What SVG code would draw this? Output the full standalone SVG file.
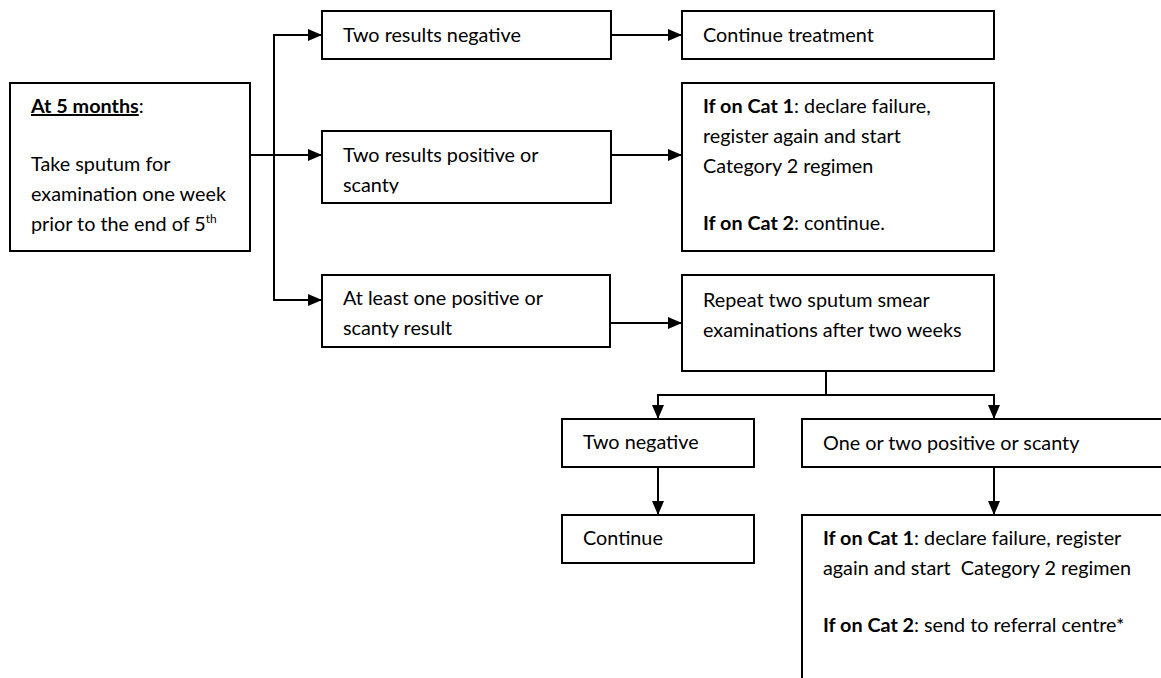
<svg xmlns="http://www.w3.org/2000/svg" width="1161" height="678" viewBox="0 0 1161 678">
<defs>
<style>
.box{fill:#fff;stroke:#000;stroke-width:2}
.t{font-family:Lato,"Liberation Sans",sans-serif;font-size:19.8px;fill:#000}
.b{font-weight:bold}
.c{fill:none;stroke:#000;stroke-width:2}
</style>
<marker id="ah" viewBox="0 0 14 12" refX="14" refY="6" markerWidth="14" markerHeight="12" markerUnits="userSpaceOnUse" orient="auto">
<path d="M0,0 L14,6 L0,12 Z" fill="#000"/>
</marker>
<clipPath id="clip1"><rect x="322" y="131" width="289" height="62.5"/></clipPath>
<clipPath id="clip2"><rect x="322" y="275" width="289" height="62.5"/></clipPath>
</defs>
<rect width="1161" height="678" fill="#fff"/>
<g id="connectors">
<path class="c" d="M250,155 H322" marker-end="url(#ah)"/>
<path class="c" d="M274,155 V35 H322" marker-end="url(#ah)"/>
<path class="c" d="M274,155 V300 H322" marker-end="url(#ah)"/>
<path class="c" d="M611,35 H682" marker-end="url(#ah)"/>
<path class="c" d="M611,155 H682" marker-end="url(#ah)"/>
<path class="c" d="M610,323 H682" marker-end="url(#ah)"/>
<path class="c" d="M826,371 V395"/>
<path class="c" d="M826,395 H658 V419" marker-end="url(#ah)"/>
<path class="c" d="M826,395 H994 V419" marker-end="url(#ah)"/>
<path class="c" d="M658,467 V515" marker-end="url(#ah)"/>
<path class="c" d="M994,467 V515" marker-end="url(#ah)"/>
</g>
<g id="n-start">
<rect class="box" x="10" y="83" width="240" height="168"/>
<text class="t" x="31" y="113"><tspan class="b" style="text-decoration:underline">At 5 months</tspan>:</text>
<text class="t" x="31" y="171">Take sputum for</text>
<text class="t" x="31" y="201">examination one week</text>
<text class="t" x="31" y="231">prior to the end of 5<tspan font-size="12" dy="-8">th</tspan></text>
</g>
<g id="n-neg">
<rect class="box" x="322" y="11" width="289" height="48"/>
<text class="t" x="343" y="42">Two results negative</text>
</g>
<g id="n-pos">
<rect class="box" x="322" y="131" width="289" height="72"/>
<g clip-path="url(#clip1)">
<text class="t" x="343" y="162">Two results positive or</text>
<text class="t" x="343" y="192">scanty</text>
</g>
</g>
<g id="n-one">
<rect class="box" x="322" y="275" width="288" height="72"/>
<g clip-path="url(#clip2)">
<text class="t" x="343" y="305">At least one positive or</text>
<text class="t" x="343" y="335">scanty result</text>
</g>
</g>
<g id="n-cont-treat">
<rect class="box" x="682" y="11" width="312" height="48"/>
<text class="t" x="703" y="42">Continue treatment</text>
</g>
<g id="n-cat">
<rect class="box" x="682" y="83" width="312" height="168"/>
<text class="t" x="703" y="113"><tspan class="b">If on Cat 1</tspan>: declare failure,</text>
<text class="t" x="703" y="143">register again and start</text>
<text class="t" x="703" y="173">Category 2 regimen</text>
<text class="t" x="703" y="230"><tspan class="b">If on Cat 2</tspan>: continue.</text>
</g>
<g id="n-repeat">
<rect class="box" x="682" y="275" width="312" height="96"/>
<text class="t" x="703" y="307">Repeat two sputum smear</text>
<text class="t" x="703" y="337">examinations after two weeks</text>
</g>
<g id="n-two-neg">
<rect class="box" x="562" y="419" width="192" height="48"/>
<text class="t" x="583" y="449">Two negative</text>
</g>
<g id="n-continue">
<rect class="box" x="562" y="515" width="192" height="48"/>
<text class="t" x="583" y="545">Continue</text>
</g>
<g id="n-one-two">
<rect class="box" x="802" y="419" width="380" height="48"/>
<text class="t" x="823" y="450">One or two positive or scanty</text>
</g>
<g id="n-final">
<rect class="box" x="802" y="515" width="380" height="200"/>
<text class="t" x="823" y="545"><tspan class="b">If on Cat 1</tspan>: declare failure, register</text>
<text class="t" x="823" y="575" xml:space="preserve">again and start  Category 2 regimen</text>
<text class="t" x="823" y="632"><tspan class="b">If on Cat 2</tspan>: send to referral centre*</text>
</g>
</svg>
